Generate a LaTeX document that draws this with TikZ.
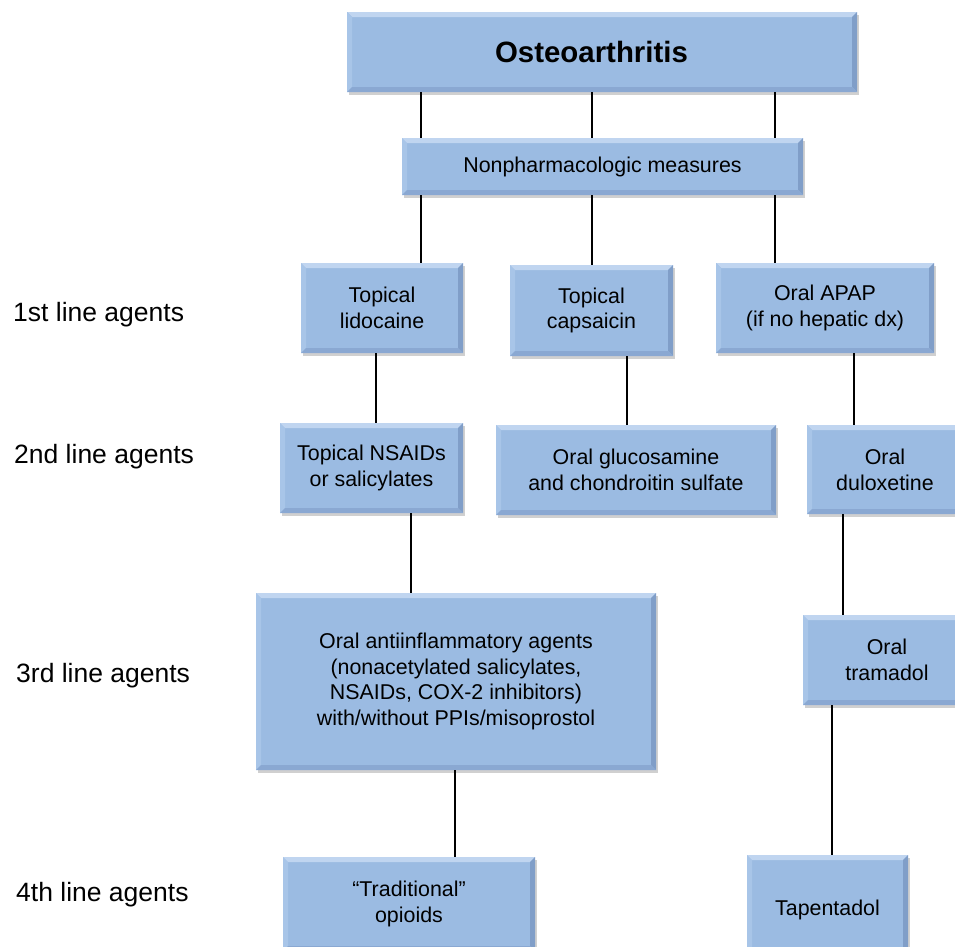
\documentclass[tikz,border=0pt]{standalone}
\usepackage{fontspec}
\setmainfont{Liberation Sans}
\usetikzlibrary{shadows}
\definecolor{boxfill}{RGB}{155,187,226}
\definecolor{bevtop}{RGB}{192,213,240}
\definecolor{bevleft}{RGB}{168,197,232}
\definecolor{bevright}{RGB}{128,158,200}
\definecolor{bevbot}{RGB}{138,168,210}
\tikzset{
  agentbox/.style={rectangle, fill=boxfill, draw=none, inner sep=0pt, align=center,
    font=\fontsize{21.4}{25.7}\selectfont,
    drop shadow={shadow xshift=1.5pt, shadow yshift=-2.5pt, opacity=0.3, fill=black!60},
    path picture={
      \fill[bevtop] (path picture bounding box.north west) -- (path picture bounding box.north east)
        -- ([shift={(-5pt,-5pt)}]path picture bounding box.north east)
        -- ([shift={(5pt,-5pt)}]path picture bounding box.north west) -- cycle;
      \fill[bevleft] (path picture bounding box.south west) -- (path picture bounding box.north west)
        -- ([shift={(5pt,-5pt)}]path picture bounding box.north west)
        -- ([shift={(5pt,5pt)}]path picture bounding box.south west) -- cycle;
      \fill[bevright] (path picture bounding box.north east) -- (path picture bounding box.south east)
        -- ([shift={(-5pt,5pt)}]path picture bounding box.south east)
        -- ([shift={(-5pt,-5pt)}]path picture bounding box.north east) -- cycle;
      \fill[bevbot] (path picture bounding box.south east) -- (path picture bounding box.south west)
        -- ([shift={(5pt,5pt)}]path picture bounding box.south west)
        -- ([shift={(-5pt,5pt)}]path picture bounding box.south east) -- cycle;
    }},
  lvl/.style={anchor=west, inner sep=0pt, font=\fontsize{26.5}{30}\selectfont},
  conn/.style={draw=black, line width=2.6pt}
}
\begin{document}
\begin{tikzpicture}[x=1pt,y=1pt]
\useasboundingbox (0,0) rectangle (955,-946);
\fill[white] (0,0) rectangle (955,-946);
\clip (0,0) rectangle (955,-946);

% boxes
\node[agentbox, minimum width=510pt, minimum height=80pt, font=\fontsize{29.4}{34}\selectfont\bfseries] (osteo) at (602,-52) {\hspace*{-21pt}Osteoarthritis};
\node[agentbox, minimum width=401pt, minimum height=57pt] (nonph) at (602.5,-166.5) {Nonpharmacologic measures};
\node[agentbox, minimum width=162pt, minimum height=90pt] (lido) at (382,-308) {Topical\\lidocaine};
\node[agentbox, minimum width=163pt, minimum height=91pt] (caps) at (591.5,-310.5) {Topical\\capsaicin};
\node[agentbox, minimum width=218pt, minimum height=90pt] (apap) at (825,-308) {Oral APAP\\(if no hepatic dx)};
\node[agentbox, minimum width=183pt, minimum height=90pt] (nsaid) at (371.5,-468) {Topical NSAIDs\\or salicylates};
\node[agentbox, minimum width=280pt, minimum height=90pt] (gluc) at (636,-470) {Oral glucosamine\\and chondroitin sulfate};
\node[agentbox, minimum width=156pt, minimum height=89pt] (dulox) at (885,-469.5) {Oral\\duloxetine};
\node[agentbox, minimum width=400pt, minimum height=177pt] (antiinf) at (456,-681.5) {Oral antiinflammatory agents\\(nonacetylated salicylates,\\NSAIDs, COX-2 inhibitors)\\with/without PPIs/misoprostol};
\node[agentbox, minimum width=168pt, minimum height=90pt] (tram) at (887,-660) {Oral\\tramadol};
\node[agentbox, minimum width=252pt, minimum height=94pt] (opioid) at (409,-904) {“Traditional”\\opioids};
\node[agentbox, minimum width=161pt, minimum height=110pt] (tapent) at (827.5,-910) {Tapentadol};

% level labels
\node[lvl] (l1) at (13,-315) {1st line agents};
\node[lvl] (l2) at (14,-457) {2nd line agents};
\node[lvl] (l3) at (16,-676) {3rd line agents};
\node[lvl] (l4) at (16,-895) {4th line agents};

% connector columns
\coordinate (ca) at (421,0);
\coordinate (cb) at (592,0);
\coordinate (cc) at (775,0);
\coordinate (cd) at (376,0);
\coordinate (ce) at (627,0);
\coordinate (cf) at (854,0);
\coordinate (cg) at (411,0);
\coordinate (ch) at (843,0);
\coordinate (ci) at (455,0);
\coordinate (cj) at (832,0);

\draw[conn] (ca |- osteo.south) -- (ca |- nonph.north);
\draw[conn] (cb |- osteo.south) -- (cb |- nonph.north);
\draw[conn] (cc |- osteo.south) -- (cc |- nonph.north);
\draw[conn] (ca |- nonph.south) -- (ca |- lido.north);
\draw[conn] (cb |- nonph.south) -- (cb |- caps.north);
\draw[conn] (cc |- nonph.south) -- (cc |- apap.north);
\draw[conn] (cd |- lido.south) -- (cd |- nsaid.north);
\draw[conn] (ce |- caps.south) -- (ce |- gluc.north);
\draw[conn] (cf |- apap.south) -- (cf |- dulox.north);
\draw[conn] (cg |- nsaid.south) -- (cg |- antiinf.north);
\draw[conn] (ch |- dulox.south) -- (ch |- tram.north);
\draw[conn] (ci |- antiinf.south) -- (ci |- opioid.north);
\draw[conn] (cj |- tram.south) -- (cj |- tapent.north);
\end{tikzpicture}
\end{document}
